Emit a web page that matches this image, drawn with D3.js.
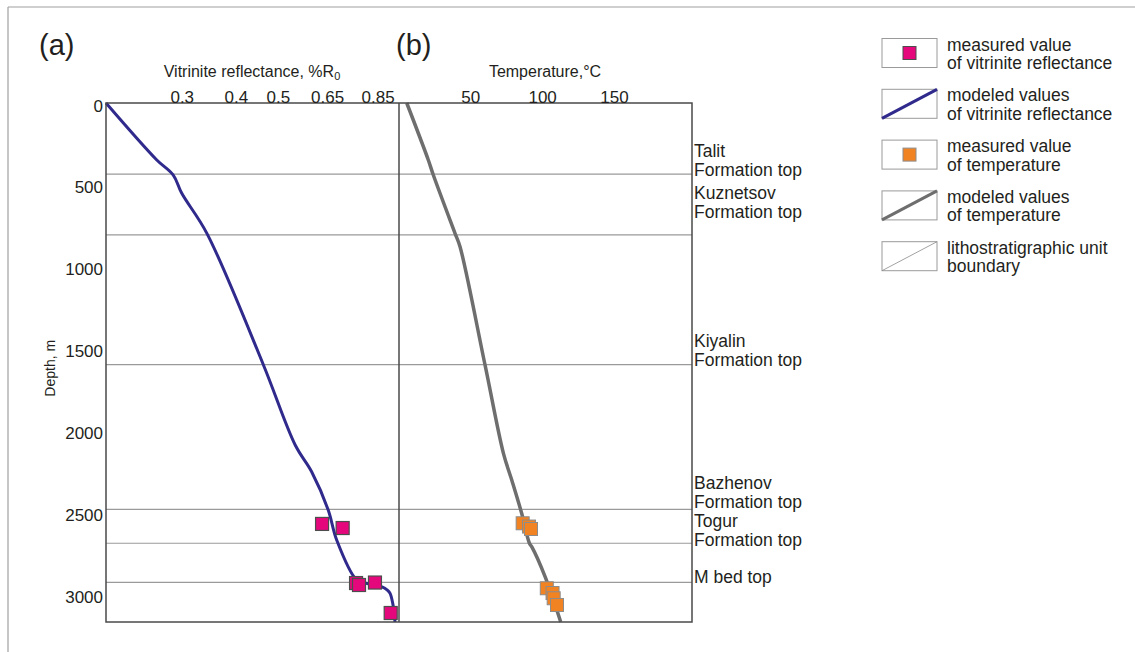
<!DOCTYPE html>
<html>
<head>
<meta charset="utf-8">
<script src="https://cdn.jsdelivr.net/npm/d3@7"></script>
<style>
  html, body { margin: 0; padding: 0; background: #fff; }
</style>
</head>
<body>
<div id="chart"></div>
<script>
// modeled vitrinite reflectance (%Ro) vs depth (m)
const roModelDepth = [0, 348, 440, 550, 796, 1600, 2089, 2252, 2486, 2669, 2914, 2935, 2955, 2975, 2995, 3077, 3170];
const roModelValue = [0.2, 0.262, 0.286, 0.299, 0.342, 0.462, 0.547, 0.597, 0.652, 0.682, 0.759, 0.802, 0.868, 0.893, 0.906, 0.922, 0.93];

// measured vitrinite reflectance
const roMeasDepth = [2571, 2596, 2932, 2944, 2929, 3115];
const roMeasValue = [0.631, 0.704, 0.756, 0.768, 0.836, 0.909];

// modeled temperature (°C) vs depth (m)
const tModelDepth = [0, 348, 440, 796, 878, 1600, 2140, 2303, 2506, 2689, 2710, 2893, 3170];
const tModelValue = [5.4, 20.4, 23.9, 39, 42.5, 59.9, 72.7, 78.5, 85.4, 90.8, 92.4, 101.7, 112.6];

// measured temperature
const tMeasDepth = [2567, 2587, 2602, 2964, 2993, 3025, 3066];
const tMeasValue = [86.1, 90.5, 91.9, 102.9, 106.9, 107.7, 110.0];

// lithostratigraphic boundaries
const formationDepth = [435, 806, 1598, 2482, 2689, 2928];
const formationLabel = [
  ["Talit", "Formation top"],
  ["Kuznetsov", "Formation top"],
  ["Kiyalin", "Formation top"],
  ["Bazhenov", "Formation top"],
  ["Togur", "Formation top"],
  ["M bed top"]
];

const depthTicks = [0, 500, 1000, 1500, 2000, 2500, 3000];
const roTicks = [0.3, 0.4, 0.5, 0.65, 0.85];
const tempTicks = [50, 100, 150];

const legendItems = [
  ["measured value", "of vitrinite reflectance"],
  ["modeled values", "of vitrinite reflectance"],
  ["measured value", "of temperature"],
  ["modeled values", "of temperature"],
  ["lithostratigraphic unit", "boundary"]
];

const width = 1135;
const height = 652;

const pink = "#e4087c";
const orange = "#f28322";
const navy = "#2f2a8c";
const tempGray = "#6e6e6e";
const frameColor = "#4a4a4a";
const boundaryColor = "#9a9a9a";
const textColor = "#231f20";

const svg = d3.select("#chart")
  .append("svg")
  .attr("width", width)
  .attr("height", height)
  .style("font-family", "'Liberation Sans', Arial, sans-serif");

// outer frame edges
svg.append("line")
  .attr("x1", 8).attr("y1", 7).attr("x2", width).attr("y2", 7)
  .attr("stroke", "#a0a0a0").attr("stroke-width", 1.2);
svg.append("line")
  .attr("x1", 8).attr("y1", 7).attr("x2", 8).attr("y2", height)
  .attr("stroke", "#a0a0a0").attr("stroke-width", 1.2);

const plotLeft = 106;
const plotMid = 399;
const plotRight = 692;
const plotTop = 103;
const plotBottom = 622;

const y = d3.scaleLinear().domain([0, 3170]).range([plotTop, plotBottom]);
const xRo = d3.scaleLog().domain([0.2, 0.95]).range([plotLeft, plotMid]);
const xT = d3.scaleLinear().domain([0, 204]).range([plotMid, plotRight]);

// formation boundaries
svg.append("g")
  .selectAll("line")
  .data(formationDepth)
  .join("line")
  .attr("x1", plotLeft)
  .attr("x2", plotRight)
  .attr("y1", d => y(d))
  .attr("y2", d => y(d))
  .attr("stroke", boundaryColor)
  .attr("stroke-width", 1.2);

// formation labels (Kuznetsov sits higher above its line)
const labelLift = [-1.5, 17, -1, 1.5, -2.5, -0.5];
formationLabel.forEach((lines, i) => {
  const baseY = y(formationDepth[i]) - labelLift[i];
  const t = svg.append("text")
    .attr("x", plotRight + 2)
    .attr("font-size", "17.5px")
    .attr("fill", textColor);
  lines.forEach((s, j) => {
    t.append("tspan")
      .attr("x", plotRight + 2)
      .attr("y", baseY - (lines.length - 1 - j) * 18.5)
      .text(s);
  });
});

// modeled curves
const roLine = d3.line()
  .x(i => xRo(roModelValue[i]))
  .y(i => y(roModelDepth[i]))
  .curve(d3.curveCatmullRom.alpha(0.5));
svg.append("path")
  .attr("d", roLine(d3.range(roModelDepth.length)))
  .attr("fill", "none")
  .attr("stroke", navy)
  .attr("stroke-width", 3);

const tLine = d3.line()
  .x(i => xT(tModelValue[i]))
  .y(i => y(tModelDepth[i]))
  .curve(d3.curveCatmullRom.alpha(0.5));
svg.append("path")
  .attr("d", tLine(d3.range(tModelDepth.length)))
  .attr("fill", "none")
  .attr("stroke", tempGray)
  .attr("stroke-width", 3.5);

// measured points
const sq = 13;
svg.append("g")
  .selectAll("rect")
  .data(d3.range(roMeasDepth.length))
  .join("rect")
  .attr("x", i => xRo(roMeasValue[i]) - sq / 2)
  .attr("y", i => y(roMeasDepth[i]) - sq / 2)
  .attr("width", sq)
  .attr("height", sq)
  .attr("fill", pink)
  .attr("stroke", "#4d4d4d")
  .attr("stroke-width", 1.2);

svg.append("g")
  .selectAll("rect")
  .data(d3.range(tMeasDepth.length))
  .join("rect")
  .attr("x", i => xT(tMeasValue[i]) - sq / 2)
  .attr("y", i => y(tMeasDepth[i]) - sq / 2)
  .attr("width", sq)
  .attr("height", sq)
  .attr("fill", orange)
  .attr("stroke", "#8c8c8c")
  .attr("stroke-width", 1);

// plot frames
svg.append("rect")
  .attr("x", plotLeft)
  .attr("y", plotTop)
  .attr("width", plotRight - plotLeft)
  .attr("height", plotBottom - plotTop)
  .attr("fill", "none")
  .attr("stroke", frameColor)
  .attr("stroke-width", 1.5);
svg.append("line")
  .attr("x1", plotMid).attr("x2", plotMid)
  .attr("y1", plotTop).attr("y2", plotBottom)
  .attr("stroke", frameColor)
  .attr("stroke-width", 1.5);

// depth axis labels
svg.append("g")
  .selectAll("text")
  .data(depthTicks)
  .join("text")
  .attr("x", plotLeft - 3)
  .attr("y", d => y(d) + 3)
  .attr("text-anchor", "end")
  .attr("dominant-baseline", "central")
  .attr("font-size", "17px")
  .attr("fill", textColor)
  .text(d => d);

svg.append("text")
  .attr("transform", `translate(55, ${y(1620)}) rotate(-90)`)
  .attr("text-anchor", "middle")
  .attr("font-size", "14px")
  .attr("fill", textColor)
  .text("Depth, m");

// top axes
svg.append("g")
  .selectAll("text")
  .data(roTicks)
  .join("text")
  .attr("x", d => xRo(d))
  .attr("y", 97)
  .attr("text-anchor", "middle")
  .attr("dominant-baseline", "central")
  .attr("font-size", "17px")
  .attr("fill", textColor)
  .text(d => d);

svg.append("g")
  .selectAll("text")
  .data(tempTicks)
  .join("text")
  .attr("x", d => xT(d))
  .attr("y", 97)
  .attr("text-anchor", "middle")
  .attr("dominant-baseline", "central")
  .attr("font-size", "17px")
  .attr("fill", textColor)
  .text(d => d);

const roTitle = svg.append("text")
  .attr("x", 252)
  .attr("y", 77)
  .attr("text-anchor", "middle")
  .attr("font-size", "16px")
  .attr("fill", textColor);
roTitle.append("tspan").text("Vitrinite reflectance, %R");
roTitle.append("tspan").attr("font-size", "11px").attr("dy", 3).text("0");

svg.append("text")
  .attr("x", 545)
  .attr("y", 77)
  .attr("text-anchor", "middle")
  .attr("font-size", "16px")
  .attr("fill", textColor)
  .text("Temperature,°C");

// panel letters
svg.append("text")
  .attr("x", 39).attr("y", 55)
  .attr("font-size", "29px")
  .attr("fill", textColor)
  .text("(a)");
svg.append("text")
  .attr("x", 396).attr("y", 55)
  .attr("font-size", "29px")
  .attr("fill", textColor)
  .text("(b)");

// legend
const legX = 882;
const legY = 38.5;
const legStep = 50.8;
const boxW = 55;
const boxH = 29;
legendItems.forEach((lines, i) => {
  const g = svg.append("g").attr("transform", `translate(${legX}, ${legY + i * legStep})`);
  g.append("rect")
    .attr("width", boxW).attr("height", boxH)
    .attr("fill", "#fff")
    .attr("stroke", "#9a9a9a")
    .attr("stroke-width", 1);
  if (i === 0 || i === 2) {
    g.append("rect")
      .attr("x", boxW / 2 - 6.5).attr("y", boxH / 2 - 6.5)
      .attr("width", 13).attr("height", 13)
      .attr("fill", i === 0 ? pink : orange)
      .attr("stroke", i === 0 ? "#4d4d4d" : "#8c8c8c")
      .attr("stroke-width", 1);
  } else {
    const stroke = i === 1 ? navy : i === 3 ? tempGray : "#8a8a8a";
    const sw = i === 4 ? 0.8 : 3;
    g.append("line")
      .attr("x1", 0).attr("y1", boxH)
      .attr("x2", boxW).attr("y2", 0)
      .attr("stroke", stroke)
      .attr("stroke-width", sw);
  }
  const t = g.append("text")
    .attr("font-size", "17.5px")
    .attr("fill", textColor);
  lines.forEach((s, j) => {
    t.append("tspan")
      .attr("x", boxW + 10)
      .attr("y", boxH / 2 - 2.5 + j * 18.5)
      .text(s);
  });
});
</script>
</body>
</html>
